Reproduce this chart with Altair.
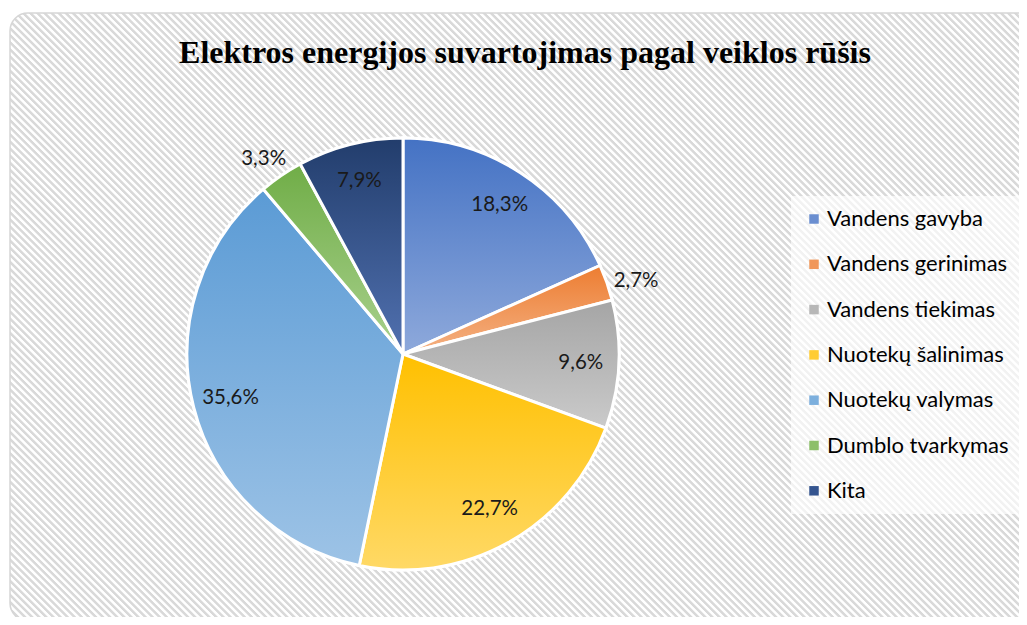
import altair as alt
import pandas as pd

categories = ["Vandens gavyba", "Vandens gerinimas", "Vandens tiekimas",
              "Nuotekų šalinimas", "Nuotekų valymas", "Dumblo tvarkymas", "Kita"]
shares = [18.3, 2.7, 9.6, 22.7, 35.6, 3.3, 7.9]
top_colors = ["#4472C4", "#ED7D31", "#A5A5A5", "#FFC000", "#5B9BD5", "#70AD47", "#223D6C"]
bottom_colors = ["#8EA9DB", "#F4B183", "#CACACA", "#FFD966", "#9DC3E6", "#A9D18E", "#5171B0"]
legend_colors = ["#6A8ED0", "#F0975A", "#B7B7B7", "#FFCC33", "#7CAFDD", "#8DBF6A", "#34548F"]
title_text = "Elektros energijos suvartojimas pagal veiklos rūšis"

df = pd.DataFrame({
    "cat": categories,
    "value": shares,
    "idx": list(range(len(categories))),
    "label": [f"{v:.1f}".replace(".", ",") + "%" for v in shares],
})

W, H = 1011, 609
CX, CY, R = 395, 346, 216

# hatched background as a striped linear gradient
fw, fh = 1050, 608
period = 5.0
span = (fw + fh) / 2 ** 0.5
n = int(span / period)
stops = []
for k in range(n):
    b = k / n
    p = 1.0 / n
    stops += [
        {"offset": round(b, 6), "color": "#ffffff"},
        {"offset": round(b + 0.35 * p, 6), "color": "#ffffff"},
        {"offset": round(b + 0.5 * p, 6), "color": "#d9d9d9"},
        {"offset": round(b + 0.85 * p, 6), "color": "#d9d9d9"},
    ]
stops.append({"offset": 1, "color": "#ffffff"})
ratio = fh / fw
tmax = (1 + ratio) / (1 + ratio * ratio)
hatch = {"gradient": "linear", "x1": 0, "y1": 1, "x2": tmax, "y2": 1 - tmax * ratio, "stops": stops}

frame = alt.Chart(alt.Data(values=[{}])).mark_rect(
    fill=hatch, stroke="#d6d6d6", strokeWidth=1.5, cornerRadius=18
).encode(x=alt.value(2), x2=alt.value(2 + fw), y=alt.value(5), y2=alt.value(5 + fh))

title = alt.Chart(alt.Data(values=[{}])).mark_text(
    text=title_text, font="Liberation Serif", fontWeight="bold", fontSize=32,
    color="#000000", align="center", baseline="alphabetic"
).encode(x=alt.value(517), y=alt.value(55))

base = alt.Chart(df).encode(
    theta=alt.Theta("value:Q", stack=True),
    order=alt.Order("idx:Q", sort="ascending"),
    x=alt.value(CX), y=alt.value(CY),
)

legend_arc = base.mark_arc(outerRadius=R, stroke="white", strokeWidth=3).encode(
    color=alt.Color("cat:N", sort=categories,
                    scale=alt.Scale(domain=categories, range=legend_colors),
                    legend=alt.Legend(
                        title=None, orient="none", legendX=783, legendY=188,
                        fillColor="rgba(255,255,255,0.65)", padding=12,
                        symbolType="square", symbolSize=90, symbolStrokeWidth=0,
                        labelFont="Lato", labelFontSize=22, labelColor="#000000",
                        labelOffset=2, rowPadding=23.3, labelLimit=300,
                    ))
)

conds = []
for c, t, b in zip(categories, top_colors, bottom_colors):
    conds.append({
        "test": f"datum.cat === '{c}'",
        "value": {"gradient": "linear", "x1": 0, "y1": 0, "x2": 0, "y2": 1,
                  "stops": [{"offset": 0, "color": t}, {"offset": 1, "color": b}]},
    })

grad_arc = base.mark_arc(outerRadius=R, stroke="white", strokeWidth=3).encode(
    fill=alt.Fill(condition=conds, value="#888888")
)

labels_in = base.transform_calculate(
    lab="datum.value >= 5 ? datum.label : ''"
).mark_text(radius=178, font="Lato", fontSize=20.5, color="#1a1a1a").encode(text="lab:N")

labels_out = base.transform_calculate(
    lab="datum.value < 5 ? datum.label : ''"
).mark_text(radius=247, dy=9, font="Lato", fontSize=20.5, color="#1a1a1a").encode(text="lab:N")

chart = alt.layer(frame, title, legend_arc, grad_arc, labels_in, labels_out).properties(
    width=W, height=H, padding=0, autosize=alt.AutoSizeParams(type="none")
).configure_view(stroke=None)

chart.save("out.html", embed_options={"renderer": "svg", "actions": False})
